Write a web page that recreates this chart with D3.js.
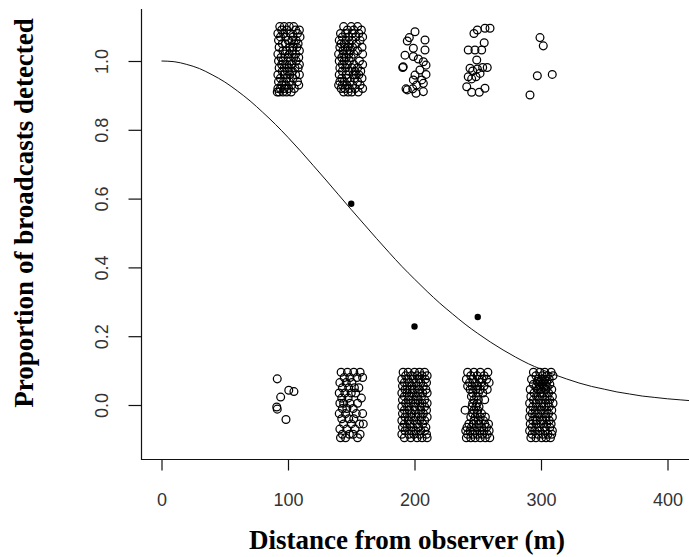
<!DOCTYPE html>
<html><head><meta charset="utf-8">
<script src="https://cdn.jsdelivr.net/npm/d3@7"></script>
<style>body{margin:0;background:#fff}svg{display:block}</style>
</head><body>
<svg id="c" width="689" height="557"></svg>
<script>
// ---- axis ticks ----
const xTicks = [0, 100, 200, 300, 400];
const yTicks = [0, 0.2, 0.4, 0.6, 0.8, 1.0];

// ---- fitted detection curve ----
const curveX = [0,10,20,30,40,50,60,70,80,90,100,110,120,130,140,150,160,170,180,190,200,210,220,230,240,250,260,270,280,290,300,310,320,330,340,350,360,370,380,390,400,410,420];
const curveY = [1.000,0.998,0.990,0.978,0.960,0.939,0.913,0.884,0.851,0.816,0.778,0.738,0.696,0.654,0.611,0.568,0.526,0.484,0.443,0.403,0.366,0.330,0.296,0.265,0.235,0.208,0.183,0.160,0.139,0.120,0.104,0.089,0.076,0.064,0.054,0.046,0.038,0.032,0.026,0.022,0.018,0.015,0.012];

// ---- observed proportions (filled dots) ----
const propX = [150, 200, 250];
const propY = [0.585, 0.228, 0.256];

// ---- jittered detections (rows: [y, [x...]]) ----
const det100 = [
 [1.100,[93.5,97,101,104.5]],[1.090,[95,99,106,109]],[1.080,[92,96.5,102,107.5]],
 [1.070,[94,98.5,104,109.5]],[1.060,[92.5,100,103,106.5]],[1.050,[95.5,98,105,108]],
 [1.040,[93,101.5,104,107]],[1.030,[96,99,103.5,109]],[1.020,[92,97.5,101,106]],
 [1.010,[94.5,100,104.5,108.5]],[1.000,[92.5,96,102,106.5]],[0.990,[95,99,103,109]],
 [0.980,[93,97,101,105.5,108]],[0.970,[95.5,99.5,103.5]],[0.960,[92,97,101.5,106,109]],
 [0.950,[94,99,104]],[0.940,[92.5,96.5,101,107.5]],[0.930,[95,98.5,103,108.5]],
 [0.920,[92,94,97,100.5,105]],[0.910,[91.5,93,96,99,102.5]]
];
const det150 = [
 [1.100,[144,150,155]],[1.090,[147,152,158]],[1.080,[141.5,145.5,151,156]],
 [1.070,[143,148,153.5,159]],[1.060,[140.5,146,150.5,157]],[1.050,[142,144.5,148.5,154]],
 [1.040,[141,145,147.5,151,158.5]],[1.030,[143.5,146.5,149,155]],[1.020,[140,144,148,152,159]],
 [1.010,[142.5,146,150]],[1.000,[140.5,144.5,148.5,156.5]],[0.990,[143,147,152,159]],
 [0.980,[141,145.5,150.5,155]],[0.970,[143,148,153,157.5]],[0.960,[140.5,146,151.5,154,156]],
 [0.950,[142.5,147,152.5,158.5]],[0.940,[141,144.5,149,155]],[0.930,[140,143,146.5,151,157]],
 [0.920,[142,145,148.5,153,159]],[0.910,[144,147.5,150.5,155.5]]
];
const det200 = [
 [1.085,[200.4]],[1.068,[195.9]],[1.058,[194.3]],[1.061,[208.3]],[1.037,[199.1]],
 [1.032,[208.3]],[1.017,[192.5]],[1.013,[199.1]],[1.006,[203]],[0.983,[191.1]],
 [0.981,[190.7]],[0.998,[207]],[0.988,[209.1]],[0.974,[204.3]],[0.959,[200.4]],
 [0.961,[209.1]],[0.945,[199.1,205.7]],[0.930,[201.7]],[0.935,[207]],[0.919,[193.3,198.6]],
 [0.916,[194.3]],[0.906,[201.2]],[0.911,[207]]
];
const det250 = [
 [1.080,[247.0]],[1.090,[249.7]],[1.095,[255.7,259.7]],[1.032,[242.5,247.8,253.1]],
 [1.053,[255.1]],[1.003,[249.2]],[0.979,[243.9]],[0.971,[246]],[0.977,[249.7]],
 [0.981,[253.9,257.5]],[0.964,[251.8]],[0.954,[242.5,248.6]],[0.948,[245.2]],
 [0.925,[241.3]],[0.909,[245.2,251.2]],[0.921,[255.7]]
];
const det300 = [
 [1.068,[299.2]],[1.044,[301.8]],[0.957,[297.1]],[0.961,[308.9]],[0.901,[291.3]]
];

// ---- jittered non-detections ----
const miss100 = [
 [0.076,[91.5]],[0.023,[94.2]],[0.043,[100.6]],[0.039,[104.7]],
 [-0.006,[91.1]],[-0.012,[91.5]],[-0.042,[98.4]]
];
const miss150 = [
 [0.095,[142,147,152,157]],[0.080,[144.5,149,154.5,159]],[0.065,[141,146,150.5]],
 [0.050,[143,148,152.5,156]],[0.035,[140.5,145,150,153.5]],[0.020,[142.5,147.5,158]],
 [0.005,[141,144,149,155]],[-0.010,[143,146.5,151.5]],[-0.025,[140.5,145.5,154,159]],
 [-0.040,[142.5,148,152]],[-0.055,[144,150,156.5,159.5]],[-0.070,[141,146.5,153]],
 [-0.085,[143,148.5,151.5,157]],[-0.095,[141.5,145.5,155]]
];
const miss200 = [
 [0.095,[191,195,200,204,208]],[0.085,[193,197.5,202,206,210]],[0.075,[190,194.5,199,203.5,208.5]],
 [0.065,[192,196,201,205,209.5]],[0.055,[190.5,194,198,202.5,207]],[0.045,[192.5,196.5,200,204,209]],
 [0.035,[190,194,198.5,203,206.5,210]],[0.025,[192,196,201.5,205.5]],[0.015,[190.5,195,199,203,208]],
 [0.005,[193,197,201,206,210]],[-0.005,[190,194.5,199.5,204,208]],[-0.015,[192,196,200.5,205,209.5]],
 [-0.025,[190.5,194,198,203,207]],[-0.035,[192.5,197,201,205.5,210]],[-0.045,[190,195,199.5,204,208]],
 [-0.055,[192,196.5,202,206.5]],[-0.065,[190.5,194,198.5,203,209]],[-0.075,[192.5,197,201,205,208]],
 [-0.085,[190,195.5,199.5,204,209.5]],[-0.095,[192,197,202,206,210]]
];
const miss250 = [
 [0.095,[242,247,252,258]],[0.085,[244.5,249.5,255]],[0.075,[241,246,251,253.5,257]],
 [0.065,[243.5,248,252.5,259]],[0.055,[242,245.5,250,255]],[0.045,[244,248.5,252,257.5]],
 [0.035,[246,250.5,254]],[0.025,[245,249]],[0.015,[247,250.5,255.5]],[0.005,[246,249.5]],
 [-0.005,[245.5,248.5,251]],[-0.015,[240,247,250]],[-0.025,[246,249.5,253]],
 [-0.035,[244.5,248,252,256]],[-0.045,[247,250.5,254.5]],[-0.055,[243,246.5,251,255.5,258.5]],
 [-0.065,[241.5,245,249,253,257]],[-0.075,[240.5,244,247.5,251.5,255,259]],
 [-0.085,[242,246,249.5,253.5,257.5]],[-0.095,[241,244.5,248,252,256,259.5]]
];
const miss300 = [
 [0.095,[294,299,303,308]],[0.085,[296,301,305,309.5]],[0.075,[292.5,298,300.5,303,306.5]],
 [0.068,[297,299.5,302,304.5]],[0.060,[294,298.5,301,303.5,307]],[0.052,[296,299,302.5,305]],
 [0.045,[291.5,297.5,300,304,308.5]],[0.035,[294.5,299,302,306]],[0.025,[292,296.5,301,305,309]],
 [0.015,[294,298.5,303,307]],[0.005,[291,296,300.5,305.5,309.5]],[-0.005,[293.5,298,302.5,306.5]],
 [-0.015,[291.5,295.5,300,304.5,308.5]],[-0.025,[293,297.5,302,306]],[-0.035,[291,295,299.5,304,309]],
 [-0.045,[293.5,297,301.5,306.5]],[-0.055,[291.5,296,300,304.5,308]],[-0.065,[293,298,302.5,307]],
 [-0.075,[291,295,299,303.5,309]],[-0.085,[293,297.5,301.5,305.5,308.5]],[-0.095,[292,296,300.5,304,307.5]]
];

// ---- drawing ----
const svg = d3.select('#c');
const x = d3.scaleLinear().domain([0, 400]).range([161.5, 667.5]);
const y = d3.scaleLinear().domain([0, 1]).range([405, 61]);
const boxLeft = 141.5, boxTop = 9, boxBottom = 459.5;

const ink = '#111';

// L-shaped box
svg.append('path')
  .attr('d', `M${boxLeft},${boxTop}V${boxBottom}H700`)
  .attr('fill', 'none').attr('stroke', ink).attr('stroke-width', 1.2);

// x axis
const gx = svg.append('g').attr('transform', `translate(0,${boxBottom})`)
  .call(d3.axisBottom(x).tickValues(xTicks).tickSize(11).tickFormat(d3.format('d')));
gx.select('.domain').remove();
gx.selectAll('line').attr('stroke', ink).attr('stroke-width', 1.2);
gx.selectAll('text').attr('y', 46).attr('dy', 0)
  .attr('font-family', 'Liberation Sans, Arial, sans-serif').attr('font-size', 18).attr('fill', '#333');

// y axis
const gy = svg.append('g').attr('transform', `translate(${boxLeft},0)`)
  .call(d3.axisLeft(y).tickValues(yTicks).tickSize(13).tickFormat(d3.format('.1f')));
gy.select('.domain').remove();
gy.selectAll('line').attr('stroke', ink).attr('stroke-width', 1.2);
gy.selectAll('text')
  .attr('transform', 'rotate(-90)').attr('x', 0).attr('y', -34).attr('dy', 0)
  .attr('text-anchor', 'middle')
  .attr('font-family', 'Liberation Sans, Arial, sans-serif').attr('font-size', 18).attr('fill', '#333');

// axis titles
svg.append('text').attr('x', 407).attr('y', 549).attr('text-anchor', 'middle')
  .attr('font-family', 'Liberation Serif, Times New Roman, serif').attr('font-weight', 'bold')
  .attr('font-size', 27).attr('fill', '#000').text('Distance from observer (m)');
svg.append('text').attr('transform', 'translate(33,213) rotate(-90)').attr('text-anchor', 'middle')
  .attr('font-family', 'Liberation Serif, Times New Roman, serif').attr('font-weight', 'bold')
  .attr('font-size', 27).attr('fill', '#000').text('Proportion of broadcasts detected');

// clip region for plot
svg.append('clipPath').attr('id', 'clip').append('rect')
  .attr('x', boxLeft).attr('y', boxTop).attr('width', 700).attr('height', boxBottom - boxTop);

// fitted curve
const curveData = curveX.map((d, i) => [d, curveY[i]]);
svg.append('path').datum(curveData)
  .attr('clip-path', 'url(#clip)')
  .attr('d', d3.line().x(d => x(d[0])).y(d => y(d[1])).curve(d3.curveMonotoneX))
  .attr('fill', 'none').attr('stroke', ink).attr('stroke-width', 1);

// jittered open circles
const flat = rows => rows.flatMap(([yy, xs]) => xs.map(xx => [xx, yy]));
const allPts = [det100, det150, det200, det250, det300, miss100, miss150, miss200, miss250, miss300].flatMap(flat);
svg.append('g').selectAll('circle').data(allPts).join('circle')
  .attr('cx', d => x(d[0])).attr('cy', d => y(d[1])).attr('r', 3.9)
  .attr('fill', 'none').attr('stroke', '#000').attr('stroke-width', 1.25);

// filled proportion dots
svg.append('g').selectAll('circle').data(propX.map((d, i) => [d, propY[i]])).join('circle')
  .attr('cx', d => x(d[0])).attr('cy', d => y(d[1])).attr('r', 3.2).attr('fill', '#000');
</script>
</body></html>
